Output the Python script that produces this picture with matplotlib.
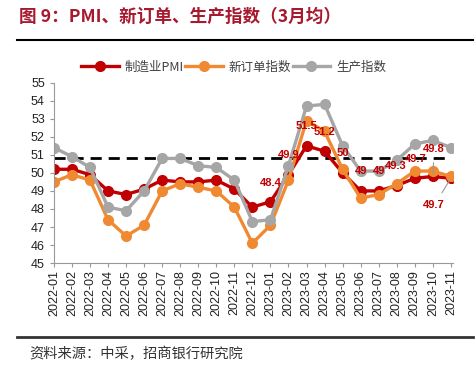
# usage
# python plot.py

# import the necessary libraries
import matplotlib
matplotlib.use("Agg")
import matplotlib.pyplot as plt
import numpy as np

plt.rcParams["font.family"] = ["Liberation Sans", "Noto Sans CJK SC", "DejaVu Sans"]

# months on the x axis
months = ["2022-01", "2022-02", "2022-03", "2022-04", "2022-05", "2022-06",
          "2022-07", "2022-08", "2022-09", "2022-10", "2022-11", "2022-12",
          "2023-01", "2023-02", "2023-03", "2023-04", "2023-05", "2023-06",
          "2023-07", "2023-08", "2023-09", "2023-10", "2023-11"]

# 3 month averages
pmi = [50.2, 50.2, 49.9, 49.0, 48.8, 49.1, 49.6, 49.5, 49.5, 49.6, 49.1, 48.1,
       48.4, 49.9, 51.5, 51.2, 50.0, 49.0, 49.0, 49.3, 49.7, 49.8, 49.7]
new_orders = [49.5, 49.9, 49.6, 47.4, 46.5, 47.1, 49.0, 49.4, 49.2, 49.0, 48.1, 46.1,
              47.1, 49.6, 52.9, 52.3, 50.2, 48.6, 48.8, 49.4, 50.1, 50.1, 49.8]
production = [51.4, 50.9, 50.3, 48.1, 47.9, 49.0, 50.8, 50.8, 50.4, 50.3, 49.6, 47.3,
              47.4, 50.4, 53.7, 53.8, 51.5, 50.1, 50.1, 50.7, 51.6, 51.8, 51.4]
ref_level = 50.8

# which pmi points get a value label, and where (offset in points)
label_idx = [12, 13, 14, 15, 16, 17, 18, 19, 20, 21, 22]
label_off = [(0, 13.5), (0, 14), (0, 14), (0, 14), (0, 14), (0, 14), (0, 14),
             (-1, 14), (1, 14), (1, 19.5), (-12, -19.5)]

# colours
red = "#C00000"
orange = "#F08A32"
gray = "#A6A6A6"
title_red = "#A6192E"

# initialize the figure
fig = plt.figure(figsize=(4.77, 3.69), dpi=100)
ax = fig.add_axes([0.113, 0.287, 0.836, 0.489])

x = np.arange(len(months))
ax.plot(x, pmi, color=red, lw=2.4, marker="o", ms=7, label="制造业PMI")
ax.plot(x, new_orders, color=orange, lw=2.4, marker="o", ms=7, label="新订单指数")
ax.plot(x, production, color=gray, lw=2.4, marker="o", ms=7, label="生产指数")
ax.axhline(ref_level, color="black", lw=2, ls=(0, (4, 2.5)), xmax=0.995, zorder=1)

# value labels on the pmi line
for i, off in zip(label_idx, label_off):
    val = pmi[i]
    txt = f"{val:g}"
    if abs(off[1]) > 15:
        ax.annotate(txt, (x[i], val), xytext=off, textcoords="offset points",
                    ha="center", va="center", color=red, fontsize=8,
                    fontweight="bold",
                    arrowprops=dict(arrowstyle="-", color="#999999", lw=0.8,
                                    shrinkA=4, shrinkB=2))
    else:
        ax.annotate(txt, (x[i], val), xytext=off, textcoords="offset points",
                    ha="center", va="center", color=red, fontsize=8,
                    fontweight="bold")

# axes styling
ax.set_xlim(0, len(months) - 0.9)
ax.set_ylim(45, 55)
ax.set_yticks(np.arange(45, 56, 1))
ax.set_xticks(x)
ax.set_xticklabels(months, rotation=90)
ax.tick_params(axis="both", labelsize=9, colors="#222222", length=3,
               color="#999999")
ax.tick_params(axis="x", pad=2)
for side in ["top", "right"]:
    ax.spines[side].set_visible(False)
for side in ["left", "bottom"]:
    ax.spines[side].set_color("#999999")

# legend on top
fig.legend(loc="center", bbox_to_anchor=(0.49, 0.818), ncol=3, frameon=False,
           handlelength=3.0, columnspacing=0.1, handletextpad=0.5,
           labelcolor="#404040", prop={"family": ["Noto Sans CJK SC"], "size": 9})

# title, rules and source
fig.text(0.04, 0.953, "图 9：PMI、新订单、生产指数（3月均）", color=title_red,
         fontsize=12.7, fontweight="bold", va="center", ha="left",
         family=["Noto Sans CJK SC", "DejaVu Sans"])
fig.add_artist(plt.Line2D([0.036, 0.992], [0.892, 0.892], color="black", lw=1.5))
fig.add_artist(plt.Line2D([0.036, 0.992], [0.087, 0.087], color="#333333", lw=2))
fig.text(0.062, 0.04, "资料来源：中采，招商银行研究院", color="#333333",
         fontsize=10.3, va="center", ha="left",
         family=["Noto Sans CJK SC", "DejaVu Sans"])

fig.savefig("out.png", dpi=100)
